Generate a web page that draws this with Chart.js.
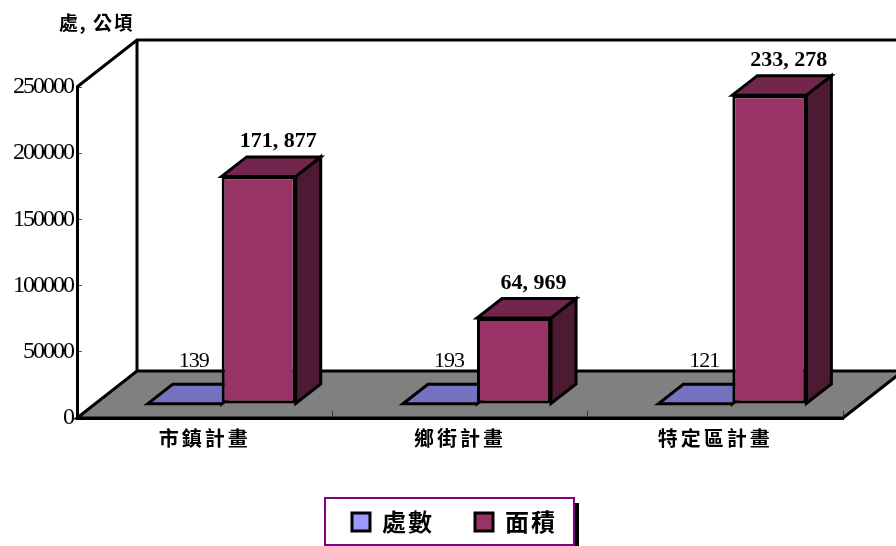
<!DOCTYPE html>
<html>
<head>
<meta charset="utf-8">
<style>
  html, body { margin: 0; padding: 0; background: #fff; overflow: hidden; }
  canvas { display: block; }
</style>
<script src="https://cdn.jsdelivr.net/npm/chart.js@4"></script>
</head>
<body>
<canvas id="chart" width="896" height="546"></canvas>
<script>
// dados
const categories = ["市鎮計畫", "鄉街計畫", "特定區計畫"];
const countValues = [139, 193, 121];
const areaValues = [171877, 64969, 233278];
const seriesNames = ["處數", "面積"];
const yTicks = [0, 50000, 100000, 150000, 200000, 250000];
const unitLabel = "處, 公頃";

const CJK = '"Noto Sans CJK TC", sans-serif';
const SERIF = '"Liberation Serif", serif';

// profundidade do "cenário" 3D e das barras
const WALL_DX = 60, WALL_DY = 47;
const BAR_DX = 25, BAR_DY = 19.5;
const SHIFT_X = 17, SHIFT_Y = 14;

// aplica letterSpacing só durante o desenho de uma parte do gráfico
function withSpacing(obj, method, px) {
  const orig = obj[method];
  obj[method] = function (...args) {
    this.ctx.letterSpacing = px;
    orig.apply(this, args);
    this.ctx.letterSpacing = "0px";
  };
}

function poly(ctx, pts, fill) {
  ctx.beginPath();
  pts.forEach((p, i) => (i ? ctx.lineTo(p[0], p[1]) : ctx.moveTo(p[0], p[1])));
  ctx.closePath();
  ctx.fillStyle = fill;
  ctx.fill();
  ctx.stroke();
}

const scene3d = {
  id: "scene3d",
  afterDatasetsUpdate(chart) {
    // empurra as barras para o meio do piso
    chart.data.datasets.forEach((ds, i) => {
      chart.getDatasetMeta(i).data.forEach((el) => {
        el.x += SHIFT_X;
        el.y -= SHIFT_Y;
        el.base -= SHIFT_Y;
      });
    });
  },
  afterLayout(chart) {
    // caixa da legenda fica mais abaixo do que o layout deixaria
    const lg = chart.legend;
    lg.top = 469;
    lg.left += 29;
    lg.right += 29;
    if (!lg._spaced) {
      withSpacing(lg, "draw", "2px");
      withSpacing(chart.scales.x, "drawLabels", "3px");
      withSpacing(chart.scales.y, "drawLabels", "-2px");
      lg._spaced = true;
    }
  },
  beforeDraw(chart) {
    const { ctx, chartArea: a } = chart;
    ctx.save();
    ctx.lineWidth = 3;
    ctx.strokeStyle = "#000";
    ctx.lineJoin = "miter";
    // piso
    poly(ctx, [
      [a.left, a.bottom],
      [a.right, a.bottom],
      [a.right + WALL_DX, a.bottom - WALL_DY],
      [a.left + WALL_DX, a.bottom - WALL_DY],
    ], "#808080");
    // parede do fundo
    ctx.beginPath();
    ctx.moveTo(a.left, a.top);
    ctx.lineTo(a.left + WALL_DX, a.top - WALL_DY);
    ctx.lineTo(a.right + WALL_DX, a.top - WALL_DY);
    ctx.moveTo(a.left + WALL_DX, a.top - WALL_DY);
    ctx.lineTo(a.left + WALL_DX, a.bottom - WALL_DY);
    ctx.stroke();

    // caixa da legenda com sombra
    ctx.fillStyle = "#000";
    ctx.fillRect(574, 503, 5, 43);
    ctx.strokeStyle = "#800080";
    ctx.lineWidth = 2;
    ctx.strokeRect(325, 498, 249, 47);

    // unidade
    ctx.fillStyle = "#000";
    ctx.font = "bold 19px " + CJK;
    ctx.textAlign = "left";
    ctx.textBaseline = "middle";
    ctx.letterSpacing = "1.5px";
    ctx.fillText(unitLabel, 59, 23);
    ctx.restore();
  },
  beforeDatasetsDraw(chart) {
    const { ctx } = chart;
    ctx.save();
    ctx.lineWidth = 3;
    ctx.strokeStyle = "#000";
    ctx.lineJoin = "miter";
    chart.data.datasets.forEach((ds, i) => {
      chart.getDatasetMeta(i).data.forEach((el) => {
        const l = el.x - el.width / 2;
        const r = el.x + el.width / 2;
        poly(ctx, [[r, el.y], [r + BAR_DX, el.y - BAR_DY], [r + BAR_DX, el.base - BAR_DY], [r, el.base]], ds.sideColor);
        poly(ctx, [[l, el.y], [l + BAR_DX, el.y - BAR_DY], [r + BAR_DX, el.y - BAR_DY], [r, el.y]], ds.topColor);
      });
    });
    ctx.restore();
  },
  afterDatasetsDraw(chart) {
    const { ctx } = chart;
    ctx.save();
    ctx.fillStyle = "#000";
    ctx.textAlign = "center";
    ctx.textBaseline = "middle";
    chart.data.datasets.forEach((ds, i) => {
      chart.getDatasetMeta(i).data.forEach((el, j) => {
        const txt = ds.data[j].toLocaleString("en-US").replace(",", ", ");
        ctx.font = ds.labelFont;
        ctx.letterSpacing = ds.labelSpacing;
        ctx.fillText(txt, el.x + ds.labelDx, el.y + ds.labelDy);
      });
    });
    ctx.restore();
  },
};

new Chart(document.getElementById("chart"), {
  type: "bar",
  data: {
    labels: categories,
    datasets: [
      {
        label: seriesNames[0],
        data: countValues,
        backgroundColor: "#9999FF",
        topColor: "#7373BF",
        sideColor: "#4D4D80",
        borderColor: "#000",
        borderWidth: 3,
        borderSkipped: false,
        labelFont: "22px " + SERIF,
        labelSpacing: "-1px",
        labelDx: 9,
        labelDy: -43,
      },
      {
        label: seriesNames[1],
        data: areaValues,
        backgroundColor: "#993366",
        topColor: "#73264D",
        sideColor: "#4D1A33",
        borderColor: "#000",
        borderWidth: 3,
        borderSkipped: false,
        labelFont: "bold 22px " + SERIF,
        labelSpacing: "0px",
        labelDx: 19.5,
        labelDy: -35,
      },
    ],
  },
  options: {
    responsive: false,
    animation: false,
    events: [],
    layout: { padding: { left: 0, right: 53, top: 87, bottom: 0 } },
    datasets: { bar: { categoryPercentage: 0.58, barPercentage: 1 } },
    scales: {
      x: {
        afterFit: (s) => { s.height = 53; },
        border: { color: "#000", width: 3 },
        grid: { drawOnChartArea: false, tickLength: -7, tickColor: "#333", tickWidth: 1 },
        ticks: { color: "#000", font: { family: CJK, size: 20, weight: "bold" }, padding: 15, maxRotation: 0, autoSkip: false },
      },
      y: {
        min: 0,
        max: 250000,
        afterBuildTicks: (s) => { s.ticks = yTicks.map((v) => ({ value: v })); },
        afterFit: (s) => { s.width = 77; },
        border: { color: "#000", width: 3 },
        grid: { drawOnChartArea: false, tickLength: -5, tickColor: "#555", tickWidth: 1 },
        ticks: { color: "#000", font: { family: SERIF, size: 24 }, padding: 9, callback: (v) => String(v) },
      },
    },
    plugins: {
      tooltip: { enabled: false },
      legend: {
        position: "bottom",
        labels: {
          color: "#000",
          boxWidth: 18,
          boxHeight: 18,
          padding: 41,
          font: { family: CJK, size: 24, weight: "bold" },
        },
      },
    },
  },
  plugins: [scene3d],
});
</script>
</body>
</html>
